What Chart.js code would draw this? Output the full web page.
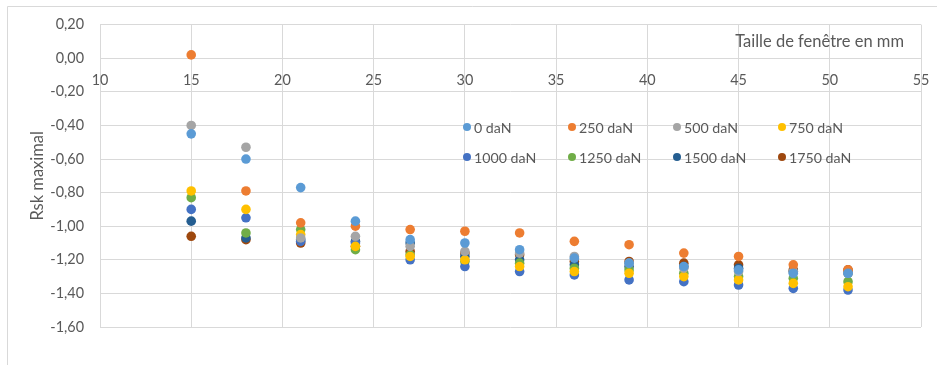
<!DOCTYPE html>
<html>
<head>
<meta charset="utf-8">
<script src="https://cdn.jsdelivr.net/npm/chart.js@4.4.1/dist/chart.umd.min.js"></script>
<style>
  html, body { margin: 0; padding: 0; background: #ffffff; }
  #wrap { width: 937px; height: 365px; position: relative; }
</style>
</head>
<body>
<div id="wrap"><canvas id="c" width="937" height="365"></canvas></div>
<script>
// ---- Data ----
const xValues = [15, 18, 21, 24, 27, 30, 33, 36, 39, 42, 45, 48, 51];
const seriesLabels = ['0 daN', '250 daN', '500 daN', '750 daN', '1000 daN', '1250 daN', '1500 daN', '1750 daN'];
const s0    = [-0.45, -0.60, -0.77, -0.97, -1.08, -1.10, -1.14, -1.19, -1.22, -1.24, -1.26, -1.28, -1.28];
const s250  = [ 0.02, -0.79, -0.98, -1.00, -1.02, -1.03, -1.04, -1.09, -1.11, -1.16, -1.18, -1.23, -1.26];
const s500  = [-0.40, -0.53, -1.07, -1.06, -1.12, -1.15, -1.16, -1.18, -1.22, -1.25, -1.27, -1.27, -1.28];
const s750  = [-0.79, -0.90, -1.05, -1.12, -1.18, -1.20, -1.24, -1.27, -1.28, -1.30, -1.32, -1.34, -1.36];
const s1000 = [-0.90, -0.95, -1.09, -1.10, -1.20, -1.24, -1.27, -1.29, -1.32, -1.33, -1.35, -1.37, -1.38];
const s1250 = [-0.83, -1.04, -1.02, -1.14, -1.17, -1.21, -1.22, -1.25, -1.26, -1.28, -1.30, -1.31, -1.33];
const s1500 = [-0.97, -1.07, -1.08, -1.09, -1.10, -1.18, -1.20, -1.23, -1.24, -1.24, -1.25, -1.27, -1.28];
const s1750 = [-1.06, -1.08, -1.10, -1.12, -1.15, -1.16, -1.17, -1.21, -1.21, -1.22, -1.23, -1.26, -1.26];
const seriesValues = [s0, s250, s500, s750, s1000, s1250, s1500, s1750];
const seriesColors = ['#5B9BD5', '#ED7D31', '#A5A5A5', '#FFC000', '#4472C4', '#70AD47', '#255E91', '#9E480E'];
const xTitle = 'Taille de fenêtre en mm';
const yTitle = 'Rsk maximal';

const FONT = "Lato, 'Open Sans', 'Liberation Sans', sans-serif";
const TXT = '#595959';
const GRID = '#d9d9d9';

const datasets = seriesLabels.map((lab, i) => ({
  label: lab,
  data: xValues.map((x, j) => ({ x: x, y: seriesValues[i][j] })),
  backgroundColor: seriesColors[i],
  borderColor: seriesColors[i],
  borderWidth: 0,
  pointRadius: 4.8,
  pointHoverRadius: 4.8,
  showLine: false
}));

const decorPlugin = {
  id: 'decor',
  beforeDraw(chart) {
    const ctx = chart.ctx;
    ctx.save();
    ctx.fillStyle = '#ffffff';
    ctx.fillRect(0, 0, chart.width, chart.height);
    ctx.strokeStyle = GRID;
    ctx.lineWidth = 1;
    ctx.beginPath();
    ctx.moveTo(7.5, chart.height);
    ctx.lineTo(7.5, 6.5);
    ctx.lineTo(chart.width, 6.5);
    ctx.stroke();
    ctx.restore();
  },
  afterDraw(chart) {
    const ctx = chart.ctx;
    ctx.save();
    // x axis title, top-right inside plot
    ctx.font = '16.5px ' + FONT;
    ctx.fillStyle = TXT;
    ctx.textAlign = 'right';
    ctx.textBaseline = 'middle';
    ctx.fillText(xTitle, chart.chartArea.right - 17, 42);
    // legend
    ctx.font = '14.2px ' + FONT;
    ctx.textAlign = 'left';
    chart.data.datasets.forEach((ds, i) => {
      const col = i % 4, row = Math.floor(i / 4);
      const cx = 467 + col * 105, cy = 127 + row * 30;
      ctx.fillStyle = ds.backgroundColor;
      ctx.beginPath();
      ctx.arc(cx, cy, 4, 0, Math.PI * 2);
      ctx.fill();
      ctx.fillStyle = TXT;
      ctx.fillText(ds.label, cx + 7, cy + 1);
    });
    ctx.restore();
  }
};

new Chart(document.getElementById('c'), {
  type: 'scatter',
  data: { datasets: datasets },
  options: {
    responsive: false,
    animation: false,
    devicePixelRatio: 1,
    layout: { padding: { left: 0, top: 24, right: 16, bottom: 38 } },
    plugins: {
      legend: { display: false },
      tooltip: { enabled: false }
    },
    scales: {
      x: {
        type: 'linear',
        position: { y: 0 },
        min: 10, max: 55,
        afterFit(scale) { scale.paddingLeft = 0; scale.paddingRight = 0; },
        ticks: { stepSize: 5, color: TXT, font: { family: FONT, size: 14.4 }, padding: 13 },
        grid: { color: GRID, drawTicks: false, lineWidth: 1 },
        border: { color: GRID }
      },
      y: {
        type: 'linear',
        position: 'left',
        min: -1.6, max: 0.2,
        afterFit(scale) { scale.width = 100; },
        ticks: {
          stepSize: 0.2,
          color: TXT,
          font: { family: FONT, size: 14.4 },
          padding: 16,
          callback: (v) => (Math.abs(v) < 1e-9 ? 0 : v).toFixed(2).replace('.', ',')
        },
        grid: { color: GRID, drawTicks: false, lineWidth: 1 },
        border: { display: false },
        title: { display: true, text: yTitle, color: TXT, font: { family: FONT, size: 16.5 }, padding: { top: 28, bottom: 0 } }
      }
    }
  },
  plugins: [decorPlugin]
});
</script>
</body>
</html>
